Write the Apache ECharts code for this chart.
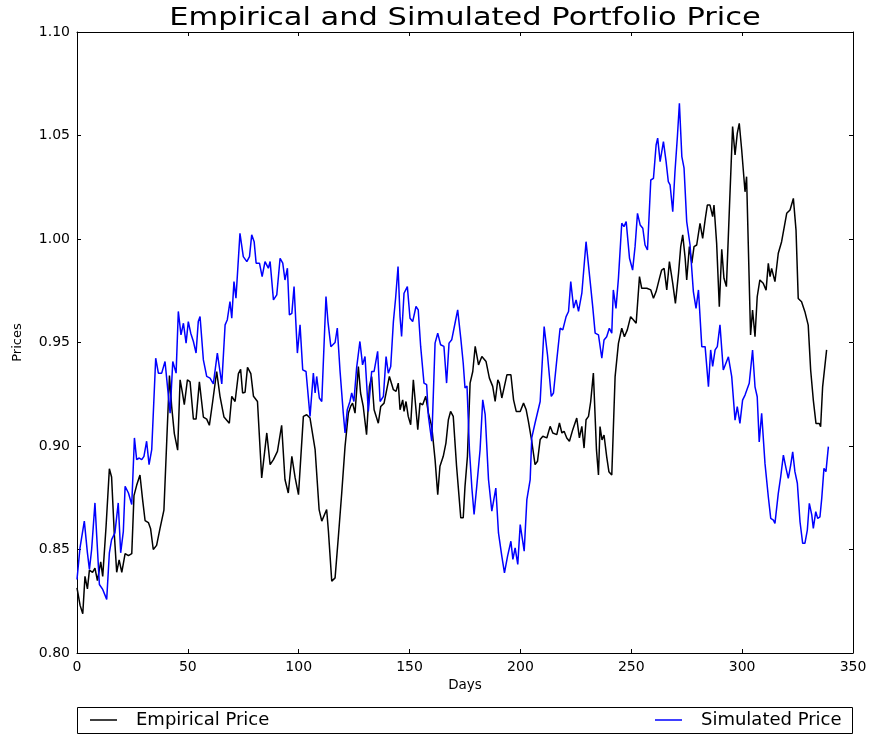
<!DOCTYPE html>
<html>
<head>
<meta charset="utf-8">
<script src="https://cdn.jsdelivr.net/npm/echarts@6/dist/echarts.min.js"></script>
<style>
  html, body { margin: 0; padding: 0; background: #fff; }
  #chart { width: 871px; height: 735px; }
</style>
</head>
<body>
<div id="chart"></div>
<script>
// values: day, price
const empDays = [
  0, 1.4, 2.6, 3.6, 4.7, 5.6, 7, 8.1, 9.2, 10.7, 11.6, 13.1, 14.6, 15.6, 16.8, 17.9, 19, 20.2, 21.7, 23.2,
  24.7, 25.7, 26.9, 28.4, 29.6, 30.7, 32.2, 33.2, 34.4, 35.9, 37.4, 39.2, 40.5, 41.7, 42.7, 43.9, 44.7, 45.4, 46.5, 47.5,
  48.4, 49.8, 51, 52.5, 53.7, 55.2, 57, 58.5, 59.7, 61.2, 63, 64.5, 66.3, 68.7, 69.8, 71.3, 72.8, 73.8, 74.7, 75.8,
  76.9, 78.4, 79.6, 81.4, 83.3, 85.6, 87.1, 88.6, 90.4, 92.3, 93.8, 95.3, 96.9, 98.4, 99.9, 102.1, 103.6, 105.1, 107.4, 109.2,
  110.4, 112.6, 113.4, 114.9, 116.4, 117.9, 119.4, 120.9, 121.6, 122.4, 123.4, 124.3, 125.4, 126.9, 127.9, 129.1, 130.6, 131.9, 132.9, 134,
  135.9, 137, 138.5, 139.7, 140.9, 142.7, 143.9, 144.9, 145.7, 146.9, 147.5, 148.4, 149.4, 150.5, 151.7, 152.9, 153.7, 154.7, 155.9, 157.3,
  158.5, 160, 161.5, 162.7, 163.7, 165.2, 166.4, 167.5, 168.5, 169.7, 171.2, 173.1, 174.2, 175, 176.1, 177.3, 178.5, 179.6, 181.1, 182.6,
  184.5, 186, 187.5, 188.6, 189.8, 190.5, 191.6, 192.6, 193.9, 195.7, 196.9, 198.1, 199.9, 201.4, 202.6, 203.6, 205.1, 206.6, 207.7, 208.9,
  210.1, 211.9, 213.4, 214.6, 216.4, 217.6, 218.7, 219.7, 220.9, 222.1, 223.6, 225.4, 226.6, 227.7, 228.7, 229.6, 230.7, 231.7, 232.9, 234.3,
  235.2, 235.9, 236.8, 237.7, 238.9, 239.9, 241.2, 242.7, 244.2, 245.7, 246.9, 248.2, 249.7, 251, 252.2, 253.7, 254.7, 257, 258.8, 260,
  261.2, 262.7, 263.7, 264.8, 266, 267.2, 268.7, 269.9, 271.3, 272.3, 273.2, 274.3, 275, 276.2, 277.3, 278.3, 279.5, 281, 282.2, 283.4,
  284.3, 285.5, 286.7, 287.3, 288.5, 289.7, 290.8, 291.8, 292.9, 294.3, 295.7, 296.8, 297.8, 298.7, 299.8, 301.3, 302, 302.8, 303.8, 304.7,
  305.8, 306.8, 308, 309.5, 310.8, 311.8, 312.6, 313.3, 314.8, 316.3, 317.8, 320.1, 321.6, 323.1, 324.3, 325.3, 326.8, 328.3, 329.8, 330.9,
  332.1, 333.3, 334.8, 335.4, 336.3, 338.1
];
const empPrices = [
  0.8315, 0.823, 0.819, 0.837, 0.831, 0.840, 0.839, 0.841, 0.835, 0.844, 0.837, 0.861, 0.889, 0.885, 0.858, 0.839, 0.845, 0.839, 0.848, 0.847,
  0.848, 0.876, 0.881, 0.886, 0.874, 0.864, 0.863, 0.860, 0.850, 0.852, 0.860, 0.869, 0.903, 0.934, 0.919, 0.906, 0.906, 0.898, 0.932, 0.926,
  0.920, 0.932, 0.931, 0.913, 0.913, 0.931, 0.914, 0.913, 0.910, 0.9215, 0.936, 0.924, 0.914, 0.911, 0.924, 0.9215, 0.935, 0.937, 0.9256, 0.926,
  0.938, 0.935, 0.924, 0.9215, 0.8846, 0.9063, 0.891, 0.8934, 0.8974, 0.910, 0.8838, 0.8773, 0.895, 0.8846, 0.8765, 0.9143, 0.9151, 0.9135, 0.8982, 0.8693,
  0.8637, 0.8693, 0.8588, 0.8347, 0.8363, 0.8564, 0.8773, 0.8998, 0.899, 0.9159, 0.9191, 0.9207, 0.9159, 0.9384, 0.9256, 0.9191, 0.9055, 0.9288, 0.9336, 0.9175,
  0.911, 0.9191, 0.9207, 0.9272, 0.9336, 0.9272, 0.9264, 0.9304, 0.9175, 0.9223, 0.9167, 0.9215, 0.9143, 0.9103, 0.932, 0.9175, 0.9079, 0.9207, 0.9199, 0.924,
  0.9159, 0.9095, 0.8934, 0.8765, 0.8902, 0.895, 0.9014, 0.9127, 0.9167, 0.9143, 0.8902, 0.8653, 0.8653, 0.8805, 0.895, 0.9304, 0.936, 0.9481, 0.9392, 0.9432,
  0.9408, 0.9328, 0.9288, 0.9215, 0.932, 0.9304, 0.9232, 0.928, 0.9344, 0.9344, 0.9223, 0.9167, 0.9167, 0.9207, 0.9175, 0.9119, 0.9023, 0.891, 0.8926, 0.9031,
  0.9047, 0.9039, 0.9095, 0.9063, 0.9055, 0.9111, 0.9063, 0.9071, 0.9039, 0.9023, 0.9079, 0.9135, 0.9039, 0.9095, 0.899, 0.9127, 0.9143, 0.9215, 0.9352, 0.8981,
  0.886, 0.9094, 0.9029, 0.9053, 0.8949, 0.8876, 0.886, 0.9335, 0.9496, 0.9569, 0.9528, 0.9561, 0.9625, 0.9609, 0.9593, 0.9818, 0.9762, 0.9762, 0.9754, 0.9714,
  0.9746, 0.981, 0.985, 0.9858, 0.9754, 0.9891, 0.9786, 0.9689, 0.9834, 0.9963, 1.002, 0.9907, 0.9802, 0.9963, 0.9883, 0.9963, 0.9971, 1.0076, 1.0003, 1.01,
  1.0164, 1.0164, 1.0108, 1.0164, 0.9979, 0.9673, 0.995, 0.981, 0.977, 1.016, 1.0543, 1.0406, 1.051, 1.0559, 1.043, 1.0228, 1.0301, 1.0301, 0.9536, 0.9657,
  0.9528, 0.9721, 0.9802, 0.9786, 0.9753, 0.9882, 0.9818, 0.9858, 0.9794, 0.9931, 0.9987, 1.0124, 1.014, 1.0196, 1.0043, 0.9713, 0.9697, 0.9649, 0.9584, 0.9367,
  0.9222, 0.9109, 0.9109, 0.9093, 0.9286, 0.9464
];

const simDays = [
  0, 1.35, 3.3, 4.7, 5.6, 6.6, 8.1, 8.9, 10.1, 11.6, 13.4, 14.6, 15.6, 17.1, 18.6, 19.7, 20.9, 21.7, 23.2, 24.7,
  25.9, 26.9, 28.1, 29.2, 30.2, 31.4, 32.5, 33.7, 35.5, 36.7, 38.2, 39.7, 40.8, 42, 43.2, 44.7, 45.7, 46.9, 48, 49.2,
  50.2, 51.3, 52.5, 53.7, 54.7, 55.5, 57, 58.5, 60, 61.5, 63.3, 65.3, 66.8, 67.8, 69, 69.8, 70.8, 71.7, 73.5, 75,
  76.6, 77.8, 78.8, 79.9, 80.8, 82.3, 83.5, 84.8, 86.3, 87.1, 88.6, 90.1, 91.6, 92.8, 93.8, 94.9, 95.8, 96.9, 97.9, 99.4,
  100.6, 101.8, 103.3, 105.1, 106.6, 107.4, 108.1, 109.3, 110.4, 112.3, 113.2, 114.5, 115.5, 116.4, 117.4, 118.6, 120.1, 120.9, 121.9, 123.1,
  123.9, 124.9, 126.1, 127.6, 128.8, 129.9, 131.4, 132.9, 134, 135.6, 136.7, 138.2, 139.4, 140.4, 141.5, 142.7, 143.7, 144.8, 145.7, 146.4,
  147.5, 149, 150.2, 151.4, 152.9, 153.9, 155, 156.5, 157.7, 158.5, 160, 161.5, 162.7, 164, 165.5, 166.7, 167.8, 169, 170.5, 171.7,
  173.1, 174.2, 175, 175.9, 177, 178.1, 179.1, 180.3, 181.8, 183, 184.1, 185.6, 187.1, 187.8, 188.9, 190.1, 191.6, 192.8, 194.2, 195.7,
  196.6, 197.6, 198.8, 199.9, 201.7, 202.9, 204.4, 205.1, 206.6, 208.9, 210.7, 212.2, 213.9, 214.9, 216.4, 217.9, 219.1, 220.6, 221.7, 222.7,
  224, 225.1, 226.2, 227.7, 229.6, 231.4, 232.6, 233.7, 235.2, 236.7, 237.7, 238.9, 240.1, 241.2, 241.9, 243.1, 244.2, 245.7, 246.7, 247.7,
  249.2, 250.6, 251.7, 252.8, 254, 255.2, 256.2, 257.3, 258.8, 260, 261.2, 261.9, 263, 264.5, 265.7, 266.7, 267.5, 268.7, 269.7, 270.8,
  271.7, 272.8, 273.8, 275, 276.5, 278, 279.2, 280.3, 281.8, 283.3, 284.8, 285.8, 286.7, 287.8, 288.8, 290, 291.5, 292.3, 293.8, 295.3,
  296, 296.8, 297.8, 299, 300.2, 301.3, 302, 303.2, 303.8, 304.7, 305.8, 306.8, 307.7, 308.8, 310.3, 311.8, 312.9, 314.1, 314.8, 316.3,
  317.4, 318.6, 319.8, 320.8, 321.9, 322.8, 323.8, 324.9, 326.1, 327.3, 328.3, 329.4, 330.3, 331.4, 332.1, 333.2, 334.1, 335.1, 335.9, 336.9,
  337.8, 338.9
];
const simPrices = [
  0.8355, 0.8508, 0.8637, 0.8484, 0.8404, 0.85, 0.8725, 0.8564, 0.8331, 0.8307, 0.8259, 0.8484, 0.8548, 0.858, 0.8725, 0.8484, 0.8588, 0.8805, 0.8773, 0.8717,
  0.9039, 0.8934, 0.8942, 0.8934, 0.895, 0.9023, 0.891, 0.8982, 0.9424, 0.9352, 0.9352, 0.9408, 0.9288, 0.9159, 0.9408, 0.9352, 0.965, 0.9537, 0.9593, 0.9497,
  0.9601, 0.9545, 0.9505, 0.9449, 0.9601, 0.9625, 0.9416, 0.9336, 0.9328, 0.930, 0.9449, 0.930, 0.9585, 0.961, 0.9698, 0.9617, 0.9794, 0.9714, 1.0027, 0.9915,
  0.9891, 0.9915, 1.002, 0.9987, 0.9883, 0.9883, 0.9818, 0.9891, 0.9859, 0.9891, 0.9706, 0.973, 0.9907, 0.9883, 0.9802, 0.9859, 0.9633, 0.9641, 0.977, 0.9449,
  0.9585, 0.9368, 0.936, 0.9143, 0.9352, 0.9256, 0.9336, 0.9232, 0.9215, 0.9722, 0.96, 0.948, 0.949, 0.950, 0.957, 0.9368, 0.9159, 0.9063, 0.9175, 0.9215,
  0.9256, 0.9215, 0.9376, 0.9505, 0.9392, 0.9432, 0.9167, 0.936, 0.936, 0.9457, 0.9215, 0.924, 0.9432, 0.9352, 0.9384, 0.9601, 0.9714, 0.9867, 0.9625, 0.9529,
  0.9738, 0.977, 0.9617, 0.9601, 0.9674, 0.9658, 0.9481, 0.9304, 0.9296, 0.9143, 0.9023, 0.9497, 0.9545, 0.9489, 0.9481, 0.9304, 0.9497, 0.9513, 0.9593, 0.9658,
  0.952, 0.940, 0.928, 0.929, 0.8982, 0.8797, 0.8669, 0.8805, 0.8982, 0.9223, 0.9151, 0.8838, 0.8685, 0.8685, 0.8797, 0.858, 0.8468, 0.8387, 0.8468, 0.854,
  0.8452, 0.8508, 0.8428, 0.862, 0.8492, 0.8741, 0.8838, 0.9039, 0.9111, 0.9215, 0.9577, 0.9441, 0.924, 0.9256, 0.9416, 0.9569, 0.9561, 0.9625, 0.965, 0.9794,
  0.9666, 0.9706, 0.965, 0.9738, 0.9987, 0.98, 0.9673, 0.9545, 0.9537, 0.9424, 0.9512, 0.9528, 0.9569, 0.9545, 0.9754, 0.9665, 0.981, 1.0076, 1.006, 1.0084,
  0.9907, 0.985, 0.9963, 1.0124, 1.0068, 1.0052, 0.9971, 0.9947, 1.0285, 1.0293, 1.0454, 1.0487, 1.0374, 1.047, 1.0374, 1.0277, 1.0261, 1.0132, 1.0325, 1.0495,
  1.0656, 1.0398, 1.0342, 1.0084, 0.9971, 0.9746, 0.9665, 0.9754, 0.948, 0.948, 0.9287, 0.9464, 0.9384, 0.9464, 0.948, 0.9585, 0.9367, 0.9367, 0.9431, 0.9335,
  0.9335, 0.9125, 0.919, 0.9109, 0.9222, 0.9246, 0.9238, 0.9303, 0.9311, 0.9464, 0.9286, 0.9238, 0.902, 0.9158, 0.8916, 0.8755, 0.865, 0.8642, 0.8626, 0.8771,
  0.8852, 0.8956, 0.8892, 0.8844, 0.8908, 0.8972, 0.8876, 0.882, 0.8634, 0.853, 0.853, 0.8594, 0.8723, 0.8667, 0.8602, 0.8683, 0.865, 0.8658, 0.8747, 0.8892,
  0.8876, 0.8997
];

const xTicks = [0, 50, 100, 150, 200, 250, 300, 350];
const yTicks = [0.80, 0.85, 0.90, 0.95, 1.00, 1.05, 1.10];

const font = 'DejaVu Sans';
const chart = echarts.init(document.getElementById('chart'));

function pairs(xs, ys) {
  return xs.map(function (x, i) { return [x, ys[i]]; });
}

function axisBase(pos, showLabel) {
  return {
    type: 'value',
    position: pos,
    axisLine: { show: true, onZero: false, lineStyle: { color: '#000', width: 1 } },
    axisTick: { show: true, inside: true, length: 4, lineStyle: { color: '#000' } },
    splitLine: { show: false },
    axisLabel: { show: showLabel, color: '#000', fontSize: 14, fontFamily: font }
  };
}

const xMain = Object.assign(axisBase('bottom', true), {
  min: xTicks[0], max: xTicks[xTicks.length - 1], interval: 50,
  name: 'Days', nameLocation: 'middle', nameGap: 22,
  nameTextStyle: { color: '#000', fontSize: 13.5, fontFamily: font }
});
xMain.axisLabel.margin = 7;
const xTop = Object.assign(axisBase('top', false), { min: 0, max: 350, interval: 50 });

const yMain = Object.assign(axisBase('left', true), {
  min: yTicks[0], max: yTicks[yTicks.length - 1], interval: 0.05,
  name: 'Prices', nameLocation: 'middle', nameGap: 53, nameRotate: 90,
  nameTextStyle: { color: '#000', fontSize: 13, fontFamily: font }
});
yMain.axisLabel.formatter = function (v) { return v.toFixed(2); };
yMain.axisLabel.margin = 7;
const yRight = Object.assign(axisBase('right', false), { min: 0.8, max: 1.1, interval: 0.05 });

function legendFor(name, left) {
  return {
    data: [name], left: left, top: 711, padding: 0,
    icon: 'rect', itemWidth: 27, itemHeight: 1.5,
    textStyle: { fontFamily: font, fontSize: 18, color: '#000', padding: [0, 0, 0, 14] }
  };
}

const option = {
  animation: false,
  backgroundColor: '#fff',
  grid: { left: 77, top: 32, right: 18, bottom: 82, containLabel: false },
  xAxis: [xMain, xTop],
  yAxis: [yMain, yRight],
  legend: [legendFor('Empirical Price', 90), legendFor('Simulated Price', 655)],
  graphic: [
    {
      // title, stretched wide like the reference
      type: 'text', x: 465, y: 18.5, scaleX: 1.27, silent: true,
      style: {
        text: 'Empirical and Simulated Portfolio Price',
        fontFamily: font, fontSize: 24, fill: '#000',
        align: 'center', verticalAlign: 'middle',
        textAlign: 'center', textVerticalAlign: 'middle'
      }
    },
    {
      type: 'rect', silent: true,
      shape: { x: 77.5, y: 707.5, width: 775, height: 26 },
      style: { fill: 'none', stroke: '#000', lineWidth: 1 }
    }
  ],
  series: [
    {
      name: 'Empirical Price', type: 'line', showSymbol: false,
      data: pairs(empDays, empPrices),
      color: '#000000', lineStyle: { color: '#000000', width: 1.5 }
    },
    {
      name: 'Simulated Price', type: 'line', showSymbol: false,
      data: pairs(simDays, simPrices),
      color: '#0000ff', lineStyle: { color: '#0000ff', width: 1.5 }
    }
  ]
};

chart.setOption(option);
</script>
</body>
</html>
